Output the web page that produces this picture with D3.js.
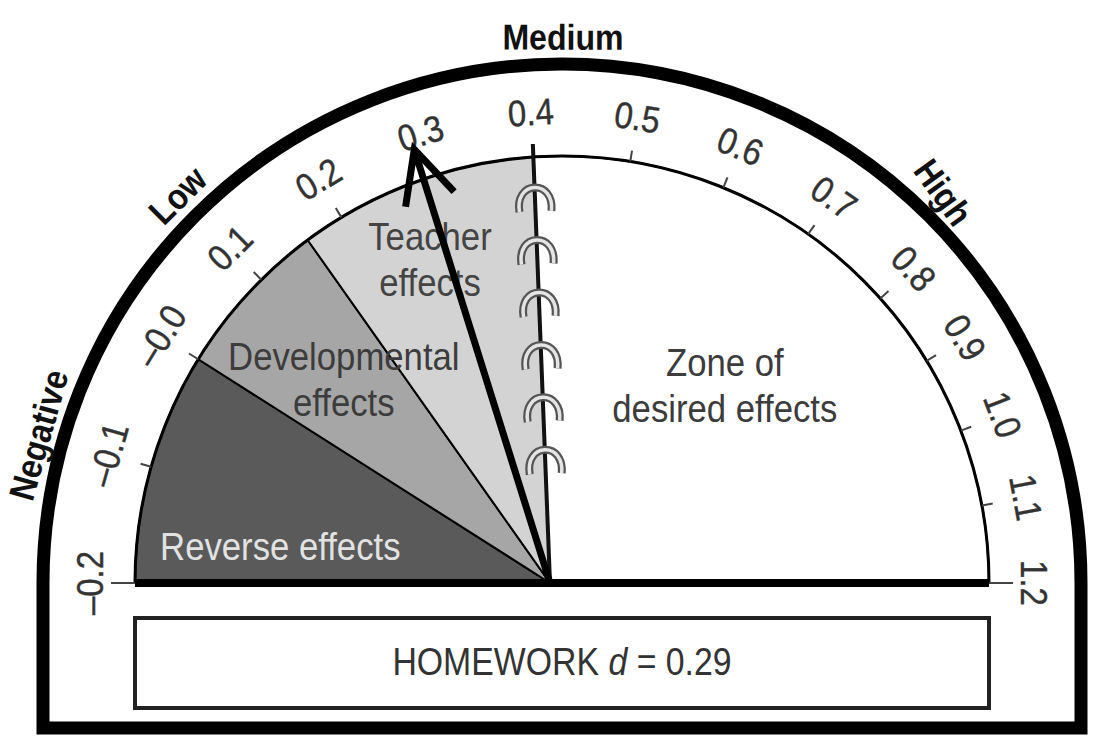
<!DOCTYPE html>
<html>
<head>
<meta charset="utf-8">
<script src="https://cdn.jsdelivr.net/npm/d3@7"></script>
<style>
  body { margin: 0; background: #fff; }
  text { font-family: "Liberation Sans", Arial, sans-serif; }
</style>
</head>
<body>
<svg></svg>
<script>
// scale of effect sizes round the barometer
const tickValues = [-0.2, -0.1, 0.0, 0.1, 0.2, 0.3, 0.4, 0.5, 0.6, 0.7, 0.8, 0.9, 1.0, 1.1, 1.2];
const tickLabels = ['\u20130.2', '\u20130.1', '\u20130.0', '0.1', '0.2', '0.3', '0.4', '0.5', '0.6', '0.7', '0.8', '0.9', '1.0', '1.1', '1.2'];

// zones of the dial
const zoneNames = [['Reverse effects'], ['Developmental', 'effects'], ['Teacher', 'effects'], ['Zone of', 'desired effects']];
const zoneStart = [-0.2, 0.0, 0.16, 0.4];
const zoneEnd = [0.0, 0.16, 0.4, 1.2];

// outer band labels
const bandNames = ['Negative', 'Low', 'Medium', 'High'];
const bandValues = [-0.1, 0.1, 0.43, 0.77];

// the influence being shown
const influence = 'HOMEWORK';
const effectSize = 0.29;

// ---- layout
const W = 1096, H = 742;
const C = { x: 562, y: 583 };     // centre of the arcs
const apex = { x: 550, y: 583 };  // where the zone edges meet
const R = 427;                    // inner dial
const RO = 519;                   // outer frame
const frameBottom = 728;
const zoneFill = ['#5a5a5a', '#a6a6a6', '#d3d3d3', '#ffffff'];
const zoneText = ['#e2e2e2', '#3c3c3c', '#444', '#3c3c3c'];
const zoneLabelAt = [[-0.154, 284], [0.083, 298], [0.265, 349], [0.733, 256]];
const bandTilt = [0, 0, 0, 10];
const bandRadius = [544, 546, 546, 546];
const squeeze = 'scale(0.89,1)';

const svg = d3.select('svg')
              .attr('width', W)
              .attr('height', H);

// degrees measured from the left end of the base line
const angle = d3.scaleLinear()
                .domain([-0.2, 0.0, 0.4, 0.8, 1.2])
                .range([0, 31.6, 86.2, 138.2, 180]);

const rad = v => angle(v) * Math.PI / 180;
const point = (v, r) => [C.x - r * Math.cos(rad(v)), C.y - r * Math.sin(rad(v))];

// outer frame
const frame = d3.path();
frame.moveTo(C.x - RO, frameBottom);
frame.lineTo(C.x - RO, C.y);
frame.arc(C.x, C.y, RO, Math.PI, 2 * Math.PI);
frame.lineTo(C.x + RO, frameBottom);
frame.closePath();
svg.append('path')
   .attr('d', frame.toString())
   .attr('fill', 'none')
   .attr('stroke', '#000')
   .attr('stroke-width', 13)
   .attr('stroke-linejoin', 'miter');

// zones
const zones = zoneNames.map((n, i) => ({ name: n, v0: zoneStart[i], v1: zoneEnd[i], i: i }));

svg.selectAll('path.zone')
   .data(zones)
   .enter()
   .append('path')
   .attr('class', 'zone')
   .attr('d', d => {
       const p = d3.path();
       const s = point(d.v0, R);
       p.moveTo(apex.x, apex.y);
       p.lineTo(s[0], s[1]);
       p.arc(C.x, C.y, R, Math.PI + rad(d.v0), Math.PI + rad(d.v1));
       p.closePath();
       return p.toString();
   })
   .attr('fill', d => zoneFill[d.i])
   .attr('stroke', '#000')
   .attr('stroke-width', 2)
   .attr('stroke-linejoin', 'round');

// inner arc
const inner = d3.path();
inner.arc(C.x, C.y, R, Math.PI, 2 * Math.PI);
svg.append('path')
   .attr('d', inner.toString())
   .attr('fill', 'none')
   .attr('stroke', '#000')
   .attr('stroke-width', 3);

// ticks
svg.selectAll('line.tick')
   .data(tickValues)
   .enter()
   .append('line')
   .attr('class', 'tick')
   .each(function (v, i) {
       const end = (i === 0 || i === tickValues.length - 1) ? 24 : 11;
       const a = point(v, R), b = point(v, R + end);
       d3.select(this).attr('x1', a[0]).attr('y1', a[1]).attr('x2', b[0]).attr('y2', b[1]);
   })
   .attr('stroke', '#444')
   .attr('stroke-width', 2);

// base line
svg.append('line')
   .attr('x1', C.x - R).attr('y1', C.y)
   .attr('x2', C.x + R).attr('y2', C.y)
   .attr('stroke', '#000')
   .attr('stroke-width', 8);

// tick labels
svg.selectAll('text.ticklabel')
   .data(tickValues)
   .enter()
   .append('text')
   .attr('class', 'ticklabel')
   .attr('transform', v => {
       const p = point(v, 472);
       return `translate(${p[0]},${p[1]}) rotate(${angle(v) - 90}) ${squeeze}`;
   })
   .attr('text-anchor', 'middle')
   .attr('dominant-baseline', 'central')
   .attr('font-size', 37)
   .attr('fill', '#333')
   .attr('stroke', '#333')
   .attr('stroke-width', 0.4)
   .text((v, i) => tickLabels[i]);

// band labels outside the frame
svg.selectAll('text.band')
   .data(bandValues)
   .enter()
   .append('text')
   .attr('class', 'band')
   .attr('transform', (v, i) => {
       const p = point(v, bandRadius[i]);
       return `translate(${p[0]},${p[1]}) rotate(${angle(v) - 90 + bandTilt[i]}) ${squeeze}`;
   })
   .attr('text-anchor', 'middle')
   .attr('dominant-baseline', 'central')
   .attr('font-size', 36)
   .attr('font-weight', 'bold')
   .attr('fill', '#111')
   .text((v, i) => bandNames[i]);

// zone labels
svg.selectAll('text.zonelabel')
   .data(zones)
   .enter()
   .append('text')
   .attr('class', 'zonelabel')
   .attr('transform', d => {
       const p = point(zoneLabelAt[d.i][0], zoneLabelAt[d.i][1]);
       return `translate(${p[0]},${p[1]}) ${squeeze}`;
   })
   .attr('text-anchor', 'middle')
   .attr('font-size', 39)
   .attr('fill', d => zoneText[d.i])
   .each(function (d) {
       const n = d.name.length;
       d.name.forEach((line, k) => {
           d3.select(this).append('tspan')
             .attr('x', 0)
             .attr('y', (k - (n - 1) / 2) * 46)
             .attr('dominant-baseline', 'central')
             .text(line);
       });
   });

// the 0.4 hinge line
const hingeEnd = point(0.4, R + 13);
svg.append('line')
   .attr('x1', apex.x).attr('y1', apex.y)
   .attr('x2', hingeEnd[0]).attr('y2', hingeEnd[1])
   .attr('stroke', '#111')
   .attr('stroke-width', 4);

// little hinges along it
const hingeTilt = Math.atan2(hingeEnd[0] - apex.x, apex.y - hingeEnd[1]) * 180 / Math.PI;
const hinges = d3.range(6).map(i => 0.276 + i * 0.1195);
const hingeShape = 'M -16,12 C -18,-3 -10,-12 0,-12 C 10,-12 18,-3 16,12';
const hg = svg.selectAll('g.hinge')
   .data(hinges)
   .enter()
   .append('g')
   .attr('class', 'hinge')
   .attr('transform', t => `translate(${apex.x + t * (hingeEnd[0] - apex.x)},${apex.y + t * (hingeEnd[1] - apex.y)}) rotate(${hingeTilt})`);
hg.append('path')
  .attr('d', hingeShape)
  .attr('fill', 'none')
  .attr('stroke', '#555')
  .attr('stroke-width', 8);
hg.append('path')
  .attr('d', hingeShape)
  .attr('fill', 'none')
  .attr('stroke', '#e4e4e4')
  .attr('stroke-width', 3.5);

// needle
const tip = point(effectSize, 458);
const dx = apex.x - tip[0], dy = apex.y - tip[1];
const len = Math.hypot(dx, dy);
const ux = dx / len, uy = dy / len;
const barb = (deg) => {
    const a = deg * Math.PI / 180;
    return [tip[0] + 58 * (ux * Math.cos(a) - uy * Math.sin(a)),
            tip[1] + 58 * (ux * Math.sin(a) + uy * Math.cos(a))];
};
const b1 = barb(26), b2 = barb(-26);
const needle = d3.path();
needle.moveTo(apex.x, apex.y);
needle.lineTo(tip[0], tip[1]);
needle.moveTo(b1[0], b1[1]);
needle.lineTo(tip[0], tip[1]);
needle.lineTo(b2[0], b2[1]);
svg.append('path')
   .attr('d', needle.toString())
   .attr('fill', 'none')
   .attr('stroke', '#000')
   .attr('stroke-width', 7)
   .attr('stroke-linejoin', 'miter');

// name box
svg.append('rect')
   .attr('x', C.x - R)
   .attr('y', 618)
   .attr('width', 2 * R)
   .attr('height', 90)
   .attr('fill', '#fff')
   .attr('stroke', '#222')
   .attr('stroke-width', 4);

const label = svg.append('text')
   .attr('transform', `translate(${C.x},661) ${squeeze}`)
   .attr('text-anchor', 'middle')
   .attr('dominant-baseline', 'central')
   .attr('font-size', 38)
   .attr('fill', '#333');
label.append('tspan').text(influence + ' ');
label.append('tspan').attr('font-style', 'italic').text('d');
label.append('tspan').text(' = ' + effectSize.toFixed(2));
</script>
</body>
</html>
